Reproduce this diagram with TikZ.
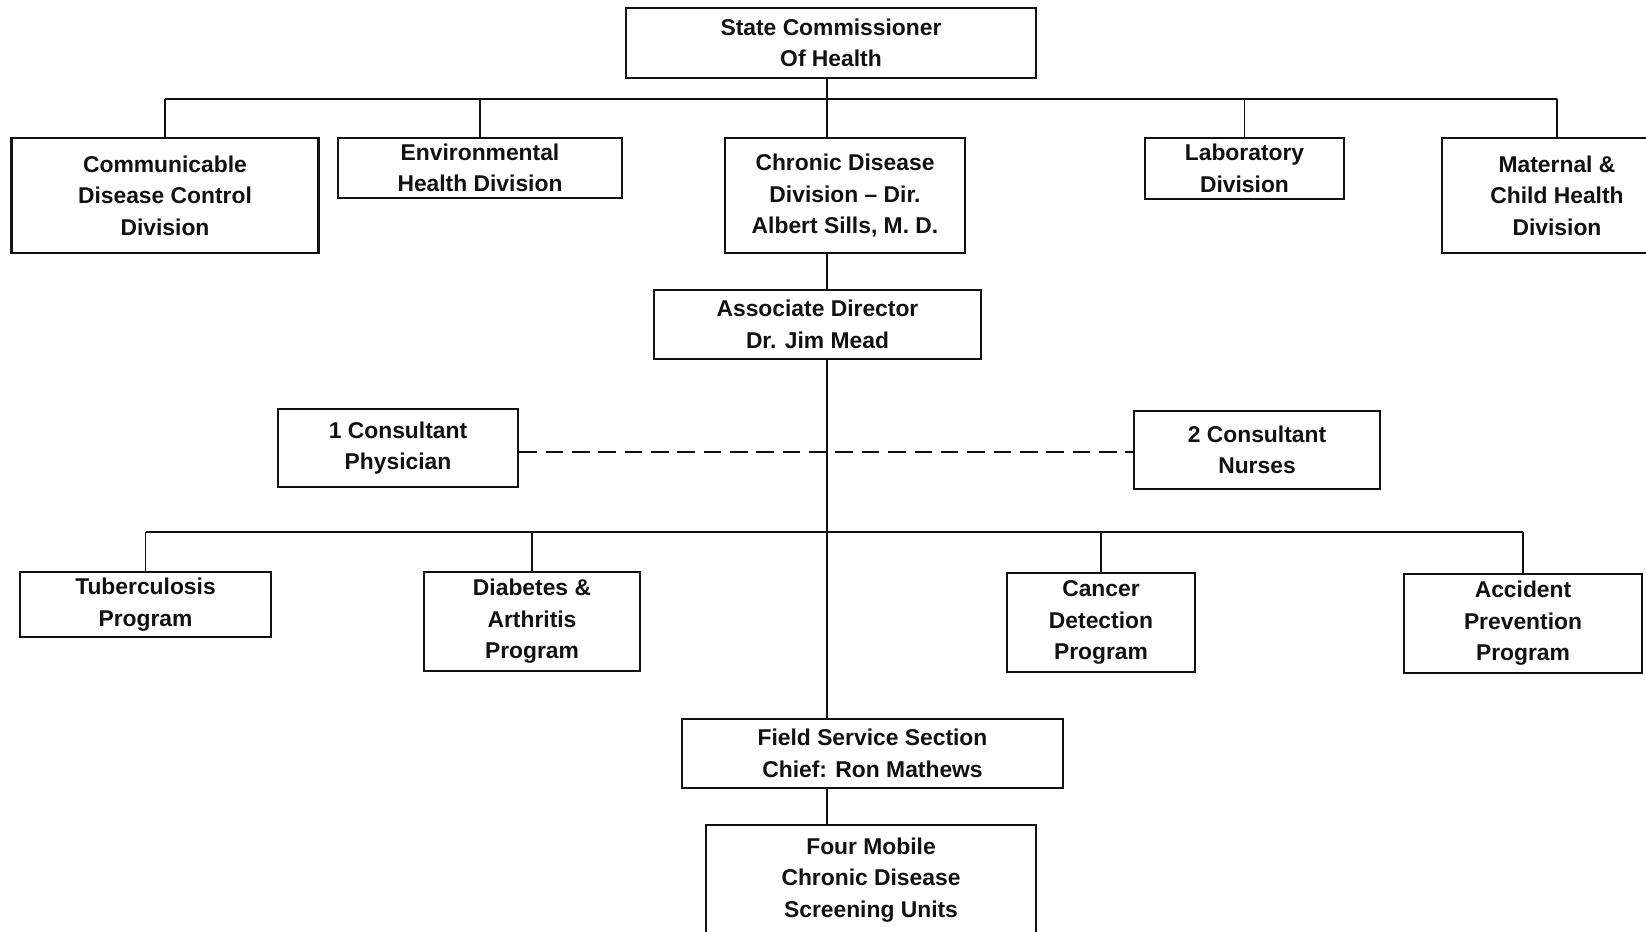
\documentclass[tikz,border=0pt]{standalone}
\usepackage{fontspec}
\setmainfont{Liberation Sans}
\usepackage{xcolor}
\usepackage{tikz}
\usetikzlibrary{calc}
\definecolor{cInk}{HTML}{111111}

\begin{document}
\begin{tikzpicture}[x=0.02cm,y=-0.02cm,
  org/.style={draw=cInk,line width=1.4pt,align=center,inner sep=2pt,text=cInk,
    font=\fontsize{13}{18}\selectfont\bfseries},
  wh/.style 2 args={minimum width=#1*0.02cm,minimum height=#2*0.02cm},
  link/.style={draw=cInk,line width=1pt}]
  \path[use as bounding box,clip] (0,0) rectangle (1646,931);
  \fill[white] (0,0) rectangle (1646,931);
  % top level
  \node[org,wh={410}{70}] (state) at (831,43) {State Commissioner\\Of Health};
  \node[org,wh={307}{115}] (comm) at (165,195.5) {Communicable\\Disease Control\\Division};
  \node[org,wh={284}{60}] (env) at (480,168) {Environmental\\Health Division};
  \node[org,wh={240}{115}] (chronic) at (845,195.5) {Chronic Disease\\Division -- Dir.\\Albert Sills, M. D.};
  \node[org,wh={199}{61}] (lab) at (1244.5,168.5) {Laboratory\\Division};
  \node[org,wh={230}{115}] (mat) at (1557,195.5) {Maternal \&\\Child Health\\Division};
  % chronic disease division
  \node[org,wh={327}{69}] (assoc) at (817.5,324.5) {Associate Director\\Dr. Jim Mead};
  \node[org,wh={240}{78}] (phys) at (398,448) {1 Consultant\\Physician};
  \node[org,wh={246}{78}] (nurses) at (1257,450) {2 Consultant\\Nurses};
  \node[org,wh={251}{65}] (tb) at (145.5,604.5) {Tuberculosis\\Program};
  \node[org,wh={216}{99}] (diab) at (532,621.5) {Diabetes \&\\Arthritis\\Program};
  \node[org,wh={188}{99}] (cancer) at (1101,622.5) {Cancer\\Detection\\Program};
  \node[org,wh={238}{99}] (acc) at (1523,623.5) {Accident\\Prevention\\Program};
  \node[org,wh={381}{69}] (field) at (872.5,753.5) {Field Service Section\\Chief: Ron Mathews};
  \node[org,wh={330}{110}] (mobile) at (871,880) {Four Mobile\\Chronic Disease\\Screening Units};
  \coordinate (trunk) at (827,0);
  \coordinate (bara) at (0,99);
  \coordinate (barb) at (0,532);
  \coordinate (dash) at (0,452);
  % connectors
  \draw[link] (state.south -| trunk) -- (chronic.north -| trunk);
  \draw[link] (comm.north |- bara) -- (mat.north |- bara);
  \foreach \n in {comm,env,lab,mat}
    \draw[link] (\n.north |- bara) -- (\n.north);
  \draw[link] (chronic.south -| trunk) -- (assoc.north -| trunk);
  \draw[link] (assoc.south -| trunk) -- (field.north -| trunk);
  \draw[link] (tb.north |- barb) -- (acc.north |- barb);
  \foreach \n in {tb,diab,cancer,acc}
    \draw[link] (\n.north |- barb) -- (\n.north);
  \draw[link,dash pattern=on 10pt off 5pt] (phys.east |- dash) -- (nurses.west |- dash);
  \draw[link] (field.south -| trunk) -- (mobile.north -| trunk);
\end{tikzpicture}
\end{document}
